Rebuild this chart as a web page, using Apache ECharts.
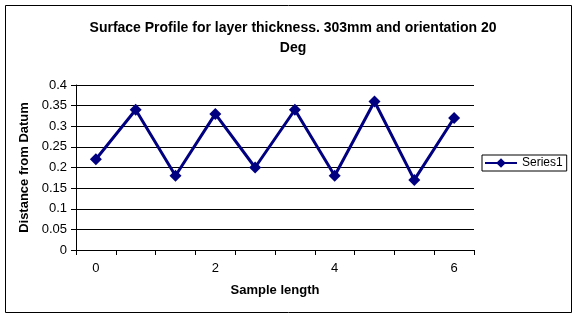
<!DOCTYPE html>
<html>
<head>
<meta charset="utf-8">
<script src="https://cdn.jsdelivr.net/npm/echarts@6/dist/echarts.min.js"></script>
<style>
  html, body { margin: 0; padding: 0; background: #fff; }
  #chart { width: 577px; height: 321px; }
</style>
</head>
<body>
<div id="chart"></div>
<script>
const sampleLength = ["0", "0.67", "1.33", "2", "2.67", "3.33", "4", "4.67", "5.33", "6"];
const distance = [0.22, 0.34, 0.18, 0.33, 0.2, 0.34, 0.18, 0.36, 0.17, 0.32];
const seriesName = "Series1";
const titleText = "Surface Profile for layer thickness. 303mm and orientation 20\nDeg";

const font = "'Liberation Sans', Arial, sans-serif";
const navy = "#000080";

const chart = echarts.init(document.getElementById("chart"), null, { renderer: "canvas" });

chart.setOption({
  animation: false,
  backgroundColor: "#fff",
  title: {
    text: titleText,
    left: 288,
    top: 13,
    textAlign: "center",
    textStyle: {
      fontFamily: font,
      fontSize: 14,
      fontWeight: "bold",
      color: "#000",
      lineHeight: 20,
    },
  },
  graphic: [
    {
      type: "rect",
      shape: { x: 5.5, y: 5.5, width: 566, height: 307 },
      style: { fill: "none", stroke: "#000", lineWidth: 1 },
      silent: true,
    },
  ],
  legend: {
    left: 482,
    top: 155,
    orient: "vertical",
    borderColor: "#000",
    borderWidth: 1,
    padding: [2, 4, 2, 2],
    itemWidth: 32,
    itemHeight: 12,
    textStyle: { fontFamily: font, fontSize: 12, color: "#000" },
    data: [seriesName],
  },
  grid: {
    left: 76,
    right: 103,
    top: 85,
    bottom: 71,
  },
  xAxis: {
    type: "category",
    data: sampleLength,
    boundaryGap: true,
    name: "Sample length",
    nameLocation: "middle",
    nameGap: 34,
    nameTextStyle: { fontFamily: font, fontSize: 13, fontWeight: "bold", color: "#000" },
    axisLine: { lineStyle: { color: "#000", width: 1 } },
    axisTick: { show: true, interval: 0, length: 5, lineStyle: { color: "#000" } },
    axisLabel: {
      interval: 2,
      margin: 12,
      fontFamily: font,
      fontSize: 13,
      color: "#000",
    },
    splitLine: { show: false },
  },
  yAxis: {
    type: "value",
    min: 0,
    max: 0.4,
    interval: 0.05,
    name: "Distance from Datum",
    nameLocation: "middle",
    nameGap: 42,
    nameTextStyle: { fontFamily: font, fontSize: 13, fontWeight: "bold", color: "#000" },
    axisLine: { show: true, lineStyle: { color: "#000", width: 1 } },
    axisTick: { show: true, length: 5, lineStyle: { color: "#000" } },
    axisLabel: {
      margin: 9,
      fontFamily: font,
      fontSize: 13,
      color: "#000",
    },
    splitLine: { show: true, lineStyle: { color: "#000", width: 1 } },
  },
  series: [
    {
      name: seriesName,
      type: "line",
      data: distance,
      symbol: "diamond",
      symbolSize: 12,
      itemStyle: { color: navy },
      lineStyle: { color: navy, width: 3 },
    },
  ],
});
</script>
</body>
</html>
